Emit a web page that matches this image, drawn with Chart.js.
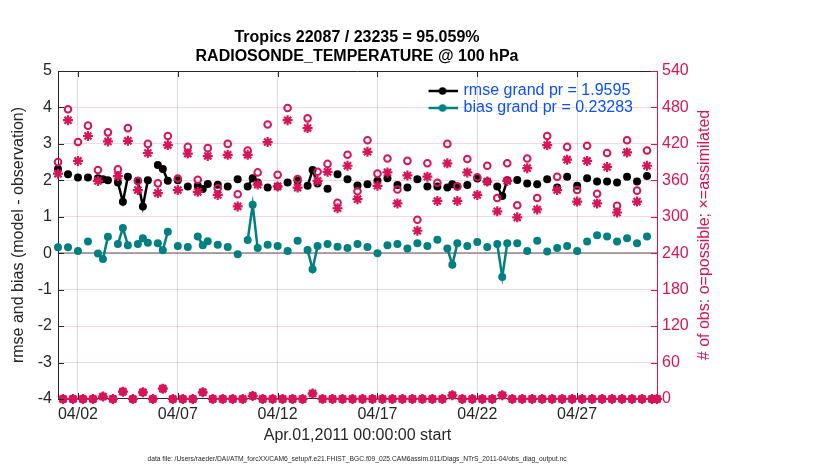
<!DOCTYPE html>
<html>
<head>
<meta charset="utf-8">
<script src="https://cdn.jsdelivr.net/npm/chart.js@4.4.1/dist/chart.umd.min.js"></script>
<style>
html,body{margin:0;padding:0;background:#fff;}
#wrap{width:830px;height:470px;position:relative;}
</style>
</head>
<body>
<div id="wrap"><canvas id="c"></canvas></div>
<script>
// ---------------- data ----------------
const titleLines = ['Tropics 22087 / 23235 = 95.059%', 'RADIOSONDE_TEMPERATURE @ 100 hPa'];
const xTitle = 'Apr.01,2011 00:00:00 start';
const leftTitle = 'rmse and bias (model - observation)';
const rightTitle = '# of obs: o=possible; \u00d7=assimilated';
const footerText = 'data file: /Users/raeder/DAI/ATM_forcXX/CAM6_setup/f.e21.FHIST_BGC.f09_025.CAM6assim.011/Diags_NTrS_2011-04/obs_diag_output.nc';
const seriesLabels = ['rmse grand pr = 1.9595', 'bias grand pr = 0.23283'];
const binDays = 0.25; // 6-hourly bins, starting 04/01 00Z
const tickDays = [1, 6, 11, 16, 21, 26];
const tickLabels = ['04/02', '04/07', '04/12', '04/17', '04/22', '04/27'];

const rmse = [
  2.31, null, 2.17, null, 2.08, null, 2.08, null, 2.06, 2.03,
  2.00, null, 1.94, 1.41, 2.10, null, 1.99, 1.28, 2.00, null,
  2.42, 2.31, 1.99, null, 2.00, null, 1.83, null, 1.85, 1.76,
  1.90, null, 1.88, null, 1.83, null, 2.03, null, 1.83, 2.06,
  1.94, null, 1.80, null, 1.83, null, 1.94, null, 1.99, null,
  1.85, 2.28, 1.91, null, 1.77, null, 2.17, null, 2.03, null,
  1.86, null, 1.89, null, 1.99, null, 2.06, null, 1.87, null,
  1.80, null, 2.03, null, 1.83, null, 1.83, null, 1.80, 1.89,
  1.83, null, 1.87, null, 2.05, null, 1.97, null, 1.83, 1.57,
  2.00, null, 2.01, null, 1.91, null, 1.89, null, 2.03, null,
  1.80, null, 2.10, null, 1.85, null, 2.06, null, 1.97, null,
  1.97, null, 1.94, null, 2.10, null, 1.97, null, 2.12, null,
  null
];
const bias = [
  0.16, null, 0.16, null, 0.06, null, 0.32, null, -0.01, -0.16,
  0.45, null, 0.25, 0.69, 0.22, null, 0.25, 0.41, 0.29, null,
  0.27, 0.08, 0.59, null, 0.20, null, 0.17, null, 0.46, 0.22,
  0.33, null, 0.23, null, 0.17, null, -0.03, null, 0.36, 1.33,
  0.14, null, 0.23, null, 0.20, null, 0.06, null, 0.34, null,
  0.09, -0.44, 0.20, null, 0.25, null, 0.18, null, 0.14, null,
  0.25, null, 0.17, null, 0.00, null, 0.22, null, 0.25, null,
  0.13, null, 0.27, null, 0.20, null, 0.37, null, 0.13, -0.32,
  0.27, null, 0.20, null, 0.31, null, 0.17, null, 0.25, -0.65,
  0.27, null, 0.27, null, 0.06, null, 0.34, null, 0.05, null,
  0.14, null, 0.20, null, 0.06, null, 0.32, null, 0.49, null,
  0.46, null, 0.32, null, 0.41, null, 0.27, null, 0.46, null,
  null
];
const possible = [
  390, 0, 477, 0, 423, 0, 450, 0, 377, 4,
  439, 0, 378, 12, 446, 0, 359, 11, 420, 0,
  355, 17, 433, 0, 363, 0, 415, 0, 361, 11,
  413, 0, 347, 0, 420, 0, 337, 0, 409, 5,
  373, 0, 452, 0, 369, 0, 479, 0, 362, 0,
  462, 9, 374, 0, 387, 0, 323, 0, 402, 0,
  342, 0, 426, 0, 371, 0, 396, 0, 345, 0,
  392, 0, 295, 0, 388, 0, 356, 0, 420, 6,
  350, 0, 395, 0, 365, 0, 384, 0, 331, 6,
  388, 0, 319, 0, 396, 0, 331, 0, 433, 0,
  366, 0, 415, 0, 344, 0, 417, 0, 338, 0,
  405, 0, 318, 0, 426, 0, 343, 0, 409, 0,
  0
];
const assimilated = [
  371, 0, 459, 0, 392, 0, 433, 0, 359, 4,
  424, 0, 367, 12, 425, 0, 344, 11, 405, 0,
  339, 17, 418, 0, 344, 0, 404, 0, 341, 11,
  400, 0, 336, 0, 402, 0, 317, 0, 402, 5,
  353, 0, 423, 0, 350, 0, 459, 0, 348, 0,
  446, 9, 359, 0, 374, 0, 314, 0, 384, 0,
  329, 0, 407, 0, 351, 0, 373, 0, 322, 0,
  368, 0, 277, 0, 366, 0, 326, 0, 388, 6,
  326, 0, 373, 0, 336, 0, 358, 0, 309, 6,
  359, 0, 299, 0, 380, 0, 312, 0, 418, 0,
  344, 0, 394, 0, 325, 0, 392, 0, 322, 0,
  382, 0, 307, 0, 406, 0, 325, 0, 384, 0,
  0
];

// ---------------- styling ----------------
const FONT = '"Liberation Sans", Arial, Helvetica, sans-serif';
const MAG = '#d7145a';
const TEAL = '#008080';
const AXC = '#262626';
const LEGC = '#0a50ff';

const toXY = arr => arr.map((v, i) => ({x: i * binDays, y: v}));

function legendGlyph(color) {
  const c = document.createElement('canvas');
  c.width = 30; c.height = 10;
  const g = c.getContext('2d');
  g.strokeStyle = color; g.lineWidth = 2.5;
  g.beginPath(); g.moveTo(0, 5); g.lineTo(30, 5); g.stroke();
  g.fillStyle = color;
  g.beginPath(); g.arc(15, 5, 3.8, 0, Math.PI * 2); g.fill();
  return c;
}
const glyphs = {2: legendGlyph('#000'), 3: legendGlyph(TEAL)};

const legendMover = {
  id: 'legendMover',
  afterLayout(chart) {
    const lg = chart.legend;
    if (!lg) return;
    const a = chart.chartArea;
    lg.left = a.right - lg.width - 14;
    lg.right = lg.left + lg.width;
    lg.top = a.top + 11;
    lg.bottom = lg.top + lg.height;
  }
};

const frame = {
  id: 'frame',
  afterDraw(chart) {
    const {ctx, chartArea: a, scales} = chart;
    const L = 6;
    ctx.save();
    ctx.lineWidth = 1;
    ctx.strokeStyle = AXC;
    ctx.beginPath();
    ctx.moveTo(a.left, a.top + 0.5); ctx.lineTo(a.right, a.top + 0.5);
    scales.x.ticks.forEach(t => {
      const px = Math.round(scales.x.getPixelForValue(t.value)) + 0.5;
      ctx.moveTo(px, a.bottom); ctx.lineTo(px, a.bottom - L);
      ctx.moveTo(px, a.top); ctx.lineTo(px, a.top + L);
    });
    scales.y.ticks.forEach(t => {
      const py = Math.round(scales.y.getPixelForValue(t.value)) + 0.5;
      ctx.moveTo(a.left, py); ctx.lineTo(a.left + L, py);
    });
    ctx.stroke();
    ctx.strokeStyle = MAG;
    ctx.beginPath();
    scales.y2.ticks.forEach(t => {
      const py = Math.round(scales.y2.getPixelForValue(t.value)) + 0.5;
      ctx.moveTo(a.right - L, py); ctx.lineTo(a.right, py);
    });
    ctx.stroke();
    // right axis title, reading bottom-to-top
    ctx.translate(scales.y2.right - 9, (a.top + a.bottom) / 2);
    ctx.rotate(-Math.PI / 2);
    ctx.fillStyle = MAG;
    ctx.font = '16px ' + FONT;
    ctx.textAlign = 'center';
    ctx.textBaseline = 'middle';
    ctx.fillText(rightTitle, 0, 0);
    ctx.restore();
  }
};

new Chart(document.getElementById('c'), {
  type: 'line',
  data: {
    datasets: [
      {
        label: 'possible', data: toXY(possible), yAxisID: 'y2', showLine: false,
        pointStyle: 'circle', pointRadius: 3.3, pointBorderWidth: 2,
        pointBorderColor: MAG, pointBackgroundColor: 'rgba(0,0,0,0)', borderColor: MAG, clip: false
      },
      {
        label: 'assimilated', data: toXY(assimilated), yAxisID: 'y2', showLine: false,
        pointStyle: 'star', pointRadius: 5, pointBorderWidth: 2.2,
        pointBorderColor: MAG, pointBackgroundColor: MAG, borderColor: MAG, clip: false
      },
      {
        label: seriesLabels[0], data: toXY(rmse), yAxisID: 'y',
        borderColor: '#000', backgroundColor: '#000', borderWidth: 2.5,
        pointRadius: 4, pointBorderWidth: 0, pointBackgroundColor: '#000', spanGaps: false, clip: false
      },
      {
        label: seriesLabels[1], data: toXY(bias), yAxisID: 'y',
        borderColor: TEAL, backgroundColor: TEAL, borderWidth: 2.5,
        pointRadius: 4, pointBorderWidth: 0, pointBackgroundColor: TEAL, spanGaps: false, clip: false
      }
    ]
  },
  options: {
    responsive: true,
    maintainAspectRatio: false,
    animation: false,
    events: [],
    layout: {padding: {left: 0, right: 116, top: 0, bottom: 0}},
    scales: {
      x: {
        type: 'linear', position: 'bottom', min: 0, max: 30,
        afterBuildTicks: s => { s.ticks = tickDays.map(v => ({value: v})); },
        afterFit: s => { s.height = 51; },
        ticks: {
          autoSkip: false, maxRotation: 0, padding: 6, color: AXC,
          font: {size: 16, family: FONT},
          callback: v => tickLabels[tickDays.indexOf(v)]
        },
        grid: {color: 'rgba(0,0,0,0.14)', lineWidth: 1, drawTicks: false},
        border: {color: AXC, width: 1},
        title: {display: true, text: xTitle, color: AXC, font: {size: 16, family: FONT}, padding: {top: 0, bottom: 5}}
      },
      y: {
        position: 'left', min: -4, max: 5,
        afterFit: s => { s.width = 58; },
        ticks: {stepSize: 1, padding: 6, color: AXC, font: {size: 16, family: FONT}},
        grid: {
          drawTicks: false,
          color: c => (c.tick && c.tick.value === 0) ? 'rgba(150,150,150,0.8)' : 'rgba(0,0,0,0)',
          lineWidth: c => (c.tick && c.tick.value === 0) ? 2 : 0
        },
        border: {color: AXC, width: 1},
        title: {display: true, text: leftTitle, color: AXC, font: {size: 16, family: FONT}, padding: {top: 9, bottom: 0}}
      },
      y2: {
        position: 'right', min: 0, max: 540,
        afterFit: s => { s.width = 57; },
        ticks: {stepSize: 60, padding: 5, color: MAG, font: {size: 16, family: FONT}},
        grid: {drawTicks: false, color: 'rgba(215,20,90,0.17)', lineWidth: 1},
        border: {color: MAG, width: 1}
      }
    },
    plugins: {
      title: {
        display: true, text: titleLines, color: '#000',
        font: {size: 16, weight: 'bold', family: FONT, lineHeight: 1.1875},
        padding: {top: 28, bottom: 5}
      },
      subtitle: {
        display: true, position: 'bottom', text: footerText, color: AXC,
        font: {size: 6.7, family: FONT, lineHeight: 1.2},
        padding: {top: 5.5, bottom: 6.5}
      },
      legend: {
        display: true, position: 'chartArea', align: 'start',
        labels: {
          usePointStyle: true, pointStyleWidth: 26, boxHeight: 10, padding: 1,
          color: LEGC, font: {size: 16, family: FONT},
          generateLabels: chart => {
            const items = Chart.defaults.plugins.legend.labels.generateLabels(chart);
            items.forEach(it => { if (glyphs[it.datasetIndex]) it.pointStyle = glyphs[it.datasetIndex]; });
            return items;
          },
          filter: it => it.datasetIndex >= 2
        }
      },
      tooltip: {enabled: false}
    }
  },
  plugins: [legendMover, frame]
});
</script>
</body>
</html>
